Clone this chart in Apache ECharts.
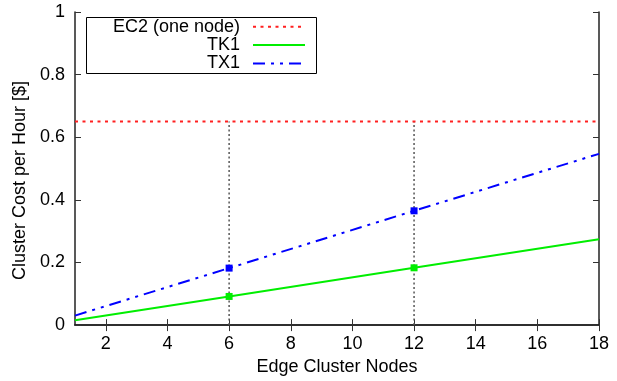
<!DOCTYPE html>
<html>
<head>
<meta charset="utf-8">
<script src="https://cdn.jsdelivr.net/npm/echarts@6/dist/echarts.min.js"></script>
<style>
  html, body { margin: 0; padding: 0; background: #fff; }
  #chart { width: 617px; height: 381px; }
</style>
</head>
<body>
<div id="chart"></div>
<script>
// data
const nodes = [1, 6, 12, 18];
const tk1Cost = [0.0152, 0.0915, 0.183, 0.274];
const tx1Cost = [0.0304, 0.182, 0.365, 0.547];
const ec2Cost = 0.65;
const markedNodes = [6, 12];
const xTicks = [2, 4, 6, 8, 10, 12, 14, 16, 18];
const seriesNames = ['EC2 (one node)', 'TK1', 'TX1'];

const font = 'Liberation Sans, Arial, Helvetica, sans-serif';

let myChart = echarts.init(document.getElementById('chart'), null, {renderer: 'canvas'});

// points of a series, with a square on the marked nodes
function points(values) {
    return nodes.map((n, i) => {
        if (markedNodes.indexOf(n) >= 0) {
            return {value: [n, values[i]], symbol: 'rect', symbolSize: 7};
        }
        return {value: [n, values[i]], symbol: 'none'};
    });
}

// one legend per row so text is right aligned next to the samples
let legendRows = [27.7, 46, 64.5];
let legends = seriesNames.map((name, i) => ({
    data: [name],
    orient: 'vertical',
    align: 'right',
    right: 311,
    top: legendRows[i] - 10,
    padding: 0,
    itemWidth: 52,
    itemHeight: 10,
    selectedMode: false,
    // hide the symbol drawn in the middle of the sample line
    itemStyle: {opacity: 0},
    textStyle: {fontFamily: font, fontSize: 18, color: '#000', padding: [0, 8, 0, 0]}
}));

let tickStyle = {inside: true, length: 6, lineStyle: {color: '#333', width: 1}};

let option = {
    animation: false,
    backgroundColor: '#fff',
    grid: {left: 75, right: 18, top: 12, bottom: 52},
    legend: legends,
    graphic: [{
        type: 'rect',
        shape: {x: 86.5, y: 17.5, width: 230, height: 56},
        style: {fill: 'none', stroke: '#000', lineWidth: 1},
        z: 1
    }],
    xAxis: [
        {
            type: 'value', min: 1, max: 18,
            name: 'Edge Cluster Nodes', nameLocation: 'middle', nameGap: 30,
            nameTextStyle: {fontFamily: font, fontSize: 18, color: '#000'},
            axisLine: {lineStyle: {color: '#222', width: 1.5}},
            axisTick: Object.assign({customValues: xTicks}, tickStyle),
            axisLabel: {customValues: xTicks, margin: 10, fontFamily: font, fontSize: 18, color: '#000'},
            splitLine: {show: false}
        },
        {
            type: 'value', min: 1, max: 18, position: 'top',
            axisLine: {lineStyle: {color: '#222', width: 1.5}},
            axisTick: Object.assign({customValues: xTicks}, tickStyle),
            axisLabel: {show: false},
            splitLine: {show: false}
        }
    ],
    yAxis: [
        {
            type: 'value', min: 0, max: 1, interval: 0.2,
            name: 'Cluster Cost per Hour [$]', nameLocation: 'middle', nameGap: 42,
            nameTextStyle: {fontFamily: font, fontSize: 18, color: '#000', padding: [0, 24, 0, 0]},
            axisLine: {show: true, lineStyle: {color: '#222', width: 1.5}},
            axisTick: tickStyle,
            axisLabel: {margin: 10, fontFamily: font, fontSize: 18, color: '#000'},
            splitLine: {show: false}
        },
        {
            type: 'value', min: 0, max: 1, interval: 0.2, position: 'right',
            axisLine: {show: true, lineStyle: {color: '#222', width: 1.5}},
            axisTick: tickStyle,
            axisLabel: {show: false},
            splitLine: {show: false}
        }
    ],
    series: [
        // dotted guides at the marked nodes
        ...markedNodes.map(n => ({
            type: 'line',
            silent: true,
            symbol: 'none',
            z: 1,
            lineStyle: {color: '#555', width: 1.5, type: [2, 2.5]},
            data: [[n, 0], [n, ec2Cost]]
        })),
        {
            name: seriesNames[0],
            type: 'line',
            symbol: 'none',
            z: 3,
            itemStyle: {color: '#ff2020'},
            lineStyle: {color: '#ff2020', width: 2, type: [3, 4.5]},
            data: [[1, ec2Cost], [18, ec2Cost]]
        },
        {
            name: seriesNames[1],
            type: 'line',
            symbol: 'none',
            z: 3,
            itemStyle: {color: '#00ee00'},
            lineStyle: {color: '#00ee00', width: 2},
            data: points(tk1Cost)
        },
        {
            name: seriesNames[2],
            type: 'line',
            symbol: 'none',
            z: 3,
            itemStyle: {color: '#0000ff'},
            lineStyle: {color: '#0000ff', width: 2, type: [12, 6, 3, 6, 3, 6]},
            data: points(tx1Cost)
        }
    ]
};

myChart.setOption(option);
</script>
</body>
</html>
